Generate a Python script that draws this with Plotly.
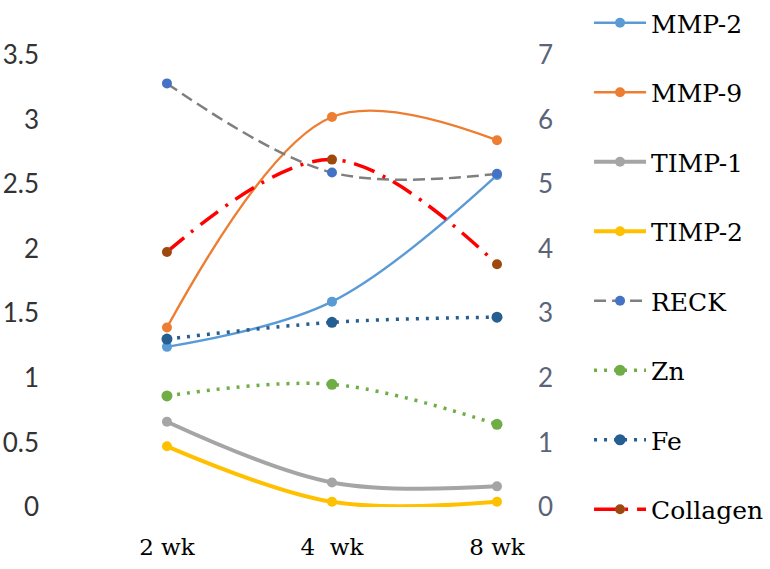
import plotly.graph_objects as go

categories = ["2 wk", "4  wk", "8 wk"]
mmp2 = [1.24, 1.59, 2.57]
mmp9 = [1.39, 3.02, 2.84]
timp1 = [0.66, 0.19, 0.16]
timp2 = [0.47, 0.04, 0.04]
reck = [3.28, 2.59, 2.58]
zn = [0.86, 0.95, 0.64]
fe = [1.30, 1.43, 1.47]
collagen = [3.95, 5.38, 3.76]  # right axis
left_ticks = [0, 0.5, 1, 1.5, 2, 2.5, 3, 3.5]
right_ticks = [0, 1, 2, 3, 4, 5, 6, 7]

fig = go.Figure()

def add(name, y, color, width, dash="solid", mcolor=None, msize=10, axis="y"):
    fig.add_trace(go.Scatter(
        x=categories, y=y, name=name, mode="lines+markers", yaxis=axis,
        line=dict(color=color, width=width, dash=dash, shape="spline", smoothing=1),
        marker=dict(color=mcolor or color, size=msize),
        legendgroup=name, cliponaxis=False,
    ))

add("MMP-2", mmp2, "#5B9BD5", 2.4)
add("MMP-9", mmp9, "#ED7D31", 2.4)
add("TIMP-1", timp1, "#A5A5A5", 4)
add("TIMP-2", timp2, "#FFC000", 4)
add("RECK", reck, "#7F7F7F", 2.5, dash="12px,6px", mcolor="#4472C4")
add("Zn", zn, "#70AD47", 3.5, dash="3px,7px", msize=11)
add("Fe", fe, "#255E91", 3.5, dash="3px,7px", msize=11)
add("Collagen", collagen, "#FF0000", 3.5, dash="22px,9px,3px,9px", mcolor="#9E480E", axis="y2")

fig.update_layout(
    width=770, height=569,
    margin=dict(l=130, r=240, t=55, b=62),
    paper_bgcolor="white", plot_bgcolor="white",
    xaxis=dict(type="category", range=[-0.224, 2.2], showgrid=False, zeroline=False,
               showline=False, ticks="", ticklabelstandoff=24, automargin=False,
               tickfont=dict(family="DejaVu Serif", size=23, color="#000000")),
    yaxis=dict(range=[0, 3.5], tickvals=left_ticks, ticktext=[f"{v:g}" for v in left_ticks],
               showgrid=False, zeroline=False, showline=False, ticks="", automargin=False,
               ticklabelstandoff=90, tickfont=dict(family="Lato", size=26, color="#333333")),
    yaxis2=dict(range=[0, 7], tickvals=right_ticks, overlaying="y", side="right",
                showgrid=False, zeroline=False, showline=False, ticks="", automargin=False,
                ticklabelstandoff=7,
                tickfont=dict(family="Lato", size=26, color="#5A6478")),
    legend=dict(xref="container", yref="paper", x=0.765, xanchor="left",
                y=1.146, yanchor="top", maxheight=600,
                font=dict(family="DejaVu Serif", size=25, color="#000000"),
                tracegroupgap=34, itemwidth=52, bgcolor="rgba(0,0,0,0)"),
    showlegend=True,
)

fig.write_html("out.html", config={"displayModeBar": False},
               post_script="document.body.style.margin='0';document.body.style.overflow='hidden';")
